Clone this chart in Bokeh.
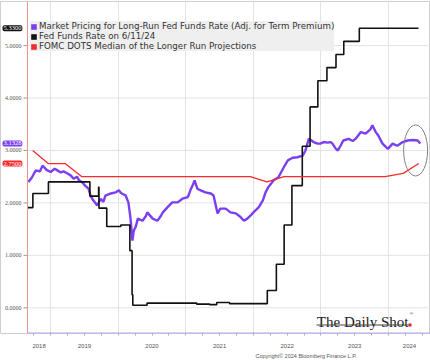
import math
import pandas as pd
from bokeh.plotting import figure
from bokeh.models import (Range1d, FixedTicker, CustomJSTickFormatter, Label, Legend, LegendItem,
                          BoxAnnotation, Title, Span)
from bokeh.embed import file_html
from bokeh.resources import INLINE

# ---------------- data ----------------
mkt_year = [2018.67, 2018.72, 2018.78, 2018.84, 2018.88, 2018.94, 2019.00, 2019.06, 2019.10, 2019.15,
            2019.19, 2019.25, 2019.30, 2019.34, 2019.39, 2019.42, 2019.47, 2019.51, 2019.56, 2019.59,
            2019.63, 2019.69, 2019.74, 2019.78, 2019.81, 2019.89, 2019.96, 2020.01, 2020.04, 2020.11,
            2020.15, 2020.18, 2020.21, 2020.23, 2020.26, 2020.29, 2020.36, 2020.41, 2020.43, 2020.51,
            2020.58, 2020.63, 2020.66, 2020.73, 2020.80, 2020.88, 2020.95, 2021.03, 2021.07, 2021.10,
            2021.13, 2021.17, 2021.22, 2021.29, 2021.37, 2021.41, 2021.47, 2021.51, 2021.59, 2021.66,
            2021.74, 2021.81, 2021.86, 2021.91, 2021.96, 2022.00, 2022.08, 2022.14, 2022.18, 2022.22,
            2022.30, 2022.37, 2022.45, 2022.51, 2022.58, 2022.65, 2022.73, 2022.77, 2022.82, 2022.85,
            2022.89, 2022.95, 2022.99, 2023.04, 2023.10, 2023.14, 2023.17, 2023.22, 2023.25, 2023.29,
            2023.33, 2023.41, 2023.47, 2023.51, 2023.59, 2023.66, 2023.73, 2023.76, 2023.81, 2023.85,
            2023.91, 2023.99, 2024.06, 2024.13, 2024.21, 2024.28, 2024.36, 2024.43, 2024.47]
mkt_rate = [2.40, 2.48, 2.62, 2.60, 2.71, 2.63, 2.59, 2.65, 2.62, 2.58,
            2.60, 2.56, 2.52, 2.46, 2.50, 2.43, 2.39, 2.33, 2.27, 2.14,
            2.05, 1.95, 2.08, 2.02, 2.14, 2.18, 2.20, 2.24, 2.19, 2.14,
            2.01, 1.73, 1.28, 1.47, 1.55, 1.70, 1.66, 1.75, 1.82, 1.70,
            1.66, 1.75, 1.82, 1.92, 2.01, 2.01, 2.08, 2.11, 2.25, 2.33,
            2.43, 2.27, 2.24, 2.20, 2.18, 2.14, 1.80, 1.89, 1.89, 1.82,
            1.80, 1.73, 1.66, 1.70, 1.76, 1.82, 1.92, 2.05, 2.20, 2.30,
            2.43, 2.49, 2.68, 2.81, 2.86, 2.87, 2.90, 3.00, 3.22, 3.20,
            3.16, 3.13, 3.13, 3.16, 3.15, 3.16, 3.13, 3.03, 3.00, 3.09,
            3.19, 3.22, 3.18, 3.22, 3.35, 3.32, 3.40, 3.48, 3.35, 3.28,
            3.13, 3.03, 3.13, 3.09, 3.16, 3.19, 3.20, 3.19, 3.1328]

ffr_date = ["2018-08-29", "2018-09-27", "2018-12-20", "2019-08-01", "2019-09-17", "2019-09-19",
            "2019-10-31", "2020-01-15", "2020-03-04", "2020-03-16", "2020-03-20", "2020-06-05",
            "2021-03-01", "2021-05-10", "2021-06-17", "2021-08-25", "2022-03-17", "2022-05-05",
            "2022-06-16", "2022-07-28", "2022-09-22", "2022-11-03", "2022-12-15", "2023-02-02",
            "2023-03-23", "2023-05-04", "2023-07-27", "2024-06-11"]
ffr_rate = [1.91, 2.18, 2.40, 2.13, 2.30, 1.90,
            1.55, 1.58, 1.09, 0.25, 0.05, 0.09,
            0.07, 0.06, 0.10, 0.08, 0.33, 0.83,
            1.58, 2.33, 3.08, 3.83, 4.33, 4.58,
            4.83, 5.08, 5.33, 5.33]

dots_date = ["2018-09-26", "2018-12-19", "2019-03-20", "2019-06-19", "2021-12-15", "2022-03-16",
             "2022-06-15", "2023-12-13", "2024-03-20", "2024-06-12"]
dots_rate = [3.00, 2.75, 2.75, 2.50, 2.50, 2.40, 2.50, 2.50, 2.5625, 2.75]

year_labels = [2018, 2019, 2020, 2021, 2022, 2023, 2024]
y_ticks = [0, 1, 2, 3, 4, 5]
y_tick_labels = ["0.0000", "1.0000", "2.0000", "3.0000", "4.0000", "5.0000"]

names = ["Market Pricing for Long-Run Fed Funds Rate (Adj. for Term Premium)",
         "Fed Funds Rate on 6/11/24",
         "FOMC DOTS Median of the Longer Run Projections"]
colors = ["#7b3ff2", "#111111", "#f52a2a"]


def dyear(s):
    d = pd.Timestamp(s)
    n = 366 if d.is_leap_year else 365
    return d.year + (d.dayofyear - 1) / n


x_start = dyear("2018-08-29")
x_end = dyear("2024-08-15")
y_lo, y_hi = -0.49, 5.84

W, H = 430, 360
axis_px = 27                      # room for the value axis at the left of the frame
yrs_per_px = (x_end - x_start) / (W - axis_px)
x_lo = x_start - axis_px * yrs_per_px

ffr_x = [dyear(s) for s in ffr_date]
dots_x = [dyear(s) for s in dots_date]

label_pos = [(max(y, x_start) + min(y + 1, x_end)) / 2 for y in year_labels]
quarters = [y + q / 4 for y in range(2018, 2025) for q in range(4) if x_start <= y + q / 4 <= x_end]

# ---------------- figure ----------------
p = figure(width=W, height=H, output_backend="svg", toolbar_location=None,
           x_range=Range1d(x_lo, x_end), y_range=Range1d(y_lo, y_hi),
           min_border_left=0, min_border_right=0, min_border_top=1, min_border_bottom=27)
p.background_fill_color = "white"
p.border_fill_color = "white"
p.outline_line_color = "#cfcfcf"
p.yaxis.visible = False

# grids
p.xgrid.ticker = FixedTicker(ticks=list(range(2019, 2025)))
p.xgrid.grid_line_color = "#e3e3e3"
p.ygrid.visible = False
p.segment(x0=[x_start] * len(y_ticks), y0=y_ticks, x1=[x_end] * len(y_ticks), y1=y_ticks,
          line_color="#e3e3e3", line_width=1)

# x axis
xa = p.xaxis[0]
xa.ticker = FixedTicker(ticks=label_pos, minor_ticks=quarters)
xa.formatter = CustomJSTickFormatter(code="return Math.floor(tick).toString();")
xa.major_tick_line_color = None
xa.major_tick_out = 0
xa.minor_tick_in = 0
xa.minor_tick_out = 2
xa.minor_tick_line_color = "#aaaaaa"
xa.axis_line_color = None
xa.major_label_standoff = 8
xa.major_label_text_font = "Liberation Sans"
xa.major_label_text_font_size = "6px"
xa.major_label_text_color = "#555555"
p.segment(x0=[x_start], y0=[y_lo], x1=[x_end], y1=[y_lo], line_color="#b9a3f6", line_width=2)

# value axis (left)
p.add_layout(Span(location=x_start, dimension="height", line_color="#f29090", line_width=1))
p.ray(x=[x_start] * len(y_ticks), y=y_ticks, length=4, length_units="screen", angle=math.pi,
      line_color="#999999", line_width=1)
p.text(x=[x_start] * len(y_ticks), y=y_ticks, text=y_tick_labels, x_offset=-6,
       text_align="right", text_baseline="middle", text_font="Liberation Sans",
       text_font_size="6px", text_color="#555555")

# series
p.line(mkt_year, mkt_rate, line_color=colors[0], line_width=2.4)
p.step(ffr_x, ffr_rate, mode="after", line_color=colors[1], line_width=1.6)
p.line(dots_x, dots_rate, line_color=colors[2], line_width=1.3)

# highlight ellipse
p.ellipse(x=[2024.40], y=[3.0], width=24, height=51, width_units="screen", height_units="screen",
          fill_alpha=0, line_color="#808080", line_width=1)

# value badges on the axis
last_vals = [mkt_rate[-1], ffr_rate[-1], dots_rate[-1]]
p.text(x=[x_lo] * 3, y=last_vals, text=[f"{v:.4f}" for v in last_vals], x_offset=2,
       text_align="left", text_baseline="middle", text_font="Liberation Sans",
       text_font_size="6.5px", text_color="white", background_fill_color=colors,
       padding=1, border_radius=2)

# legend with square swatches
nan = float("nan")
swatches = [p.quad(left=[nan], right=[nan], top=[nan], bottom=[nan], fill_color=c, line_color=None)
            for c in colors]
legend = Legend(items=[LegendItem(label=n, renderers=[r]) for n, r in zip(names, swatches)],
                location=(30, 282), orientation="vertical",
                background_fill_color="#efefef", background_fill_alpha=1.0,
                border_line_color=None, padding=6, margin=0, spacing=0,
                glyph_width=7, glyph_height=7, label_height=9, label_standoff=2,
                label_text_font="DejaVu Sans", label_text_font_size="8.7px",
                label_text_color="#333333")
p.add_layout(legend, "center")

# logo
p.add_layout(Label(x=408, y=12, x_units="screen", y_units="screen", text="The Daily Shot",
                   text_font="Liberation Serif", text_font_size="15px", text_color="#222222",
                   text_align="right", text_baseline="alphabetic"))
p.add_layout(Label(x=409, y=20, x_units="screen", y_units="screen", text="®",
                   text_font="Liberation Serif", text_font_size="5px", text_color="#222222",
                   text_align="left", text_baseline="alphabetic"))
p.add_layout(BoxAnnotation(left=316, right=408, bottom=8, top=9, left_units="screen",
                           right_units="screen", bottom_units="screen", top_units="screen",
                           fill_color="#444444", fill_alpha=1, line_color=None))
p.add_layout(BoxAnnotation(left=408, right=411, bottom=7, top=10, left_units="screen",
                           right_units="screen", bottom_units="screen", top_units="screen",
                           fill_color="#e02020", fill_alpha=1, line_color=None))

# copyright
p.add_layout(Title(text="Copyright\u00a9 2024 Bloomberg Finance L.P.", align="left", offset=255,
                   standoff=0, text_font="Liberation Sans", text_font_size="5.5px",
                   text_font_style="normal", text_color="#555555"), "below")

open("out.html", "w").write(file_html(p, INLINE))
